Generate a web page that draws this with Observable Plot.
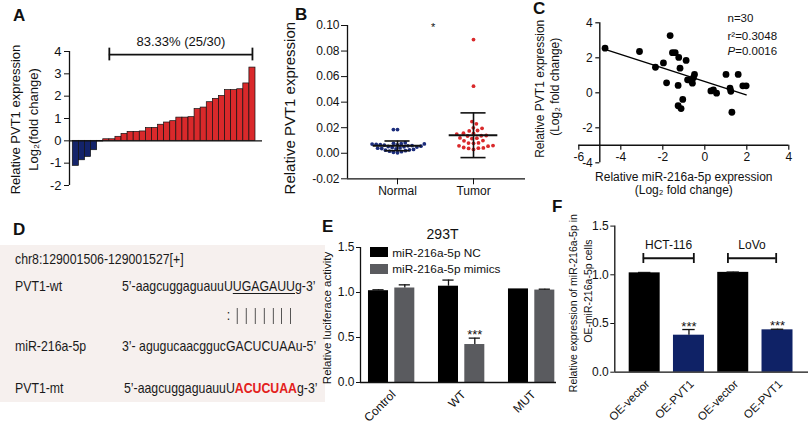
<!DOCTYPE html>
<html><head><meta charset="utf-8">
<script src="https://cdn.jsdelivr.net/npm/d3@7"></script>
<script src="https://cdn.jsdelivr.net/npm/@observablehq/plot@0.6"></script>
<style>
body{margin:0;background:#fff}
#fig{position:relative;width:810px;height:424px;overflow:hidden;background:#fff;font-family:'Liberation Sans',Arial,Helvetica,sans-serif;color:#111}
.letter{position:absolute;font-weight:bold;font-size:17px;line-height:17px}
.ht{position:absolute;white-space:pre}
.dtext{position:absolute;font-size:15px;line-height:15px;white-space:pre;transform:scaleX(0.82);transform-origin:0 0;color:#1a1a1a}
</style></head>
<body><div id="fig"></div>
<script>
// ---------- DATA ----------
// Panel A: waterfall of log2 fold change (30 patients)
const aValues = [-1.12,-0.87,-0.72,-0.42,-0.03,0.07,0.07,0.18,0.31,0.40,0.40,0.42,0.57,0.58,0.72,0.82,0.88,1.04,1.04,1.06,1.42,1.49,1.73,1.88,2.01,2.27,2.27,2.31,2.57,3.28];
const aTicks = [-2,-1,0,1,2,3,4];
const aNote = "83.33% (25/30)";
const aYLabel = ["Relative PVT1 expression","Log\u2082(fold change)"];

// Panel B: scatter of relative PVT1 expression
const bCategories = ["Normal","Tumor"];
const bNormal = [0.0185,0.0185,0.0082,0.0078,0.0075,0.0073,0.0072,0.0070,0.0068,0.0066,0.0063,0.0060,0.0058,0.0055,0.0053,0.0050,0.0048,0.0045,0.0042,0.0040,0.0037,0.0034,0.0030,0.0027,0.0024,0.0020,0.0016,0.0012,0.0008,0.0004];
const bTumor = [0.089,0.0525,0.0248,0.0230,0.0199,0.0195,0.0178,0.0175,0.0157,0.0155,0.0150,0.0139,0.0137,0.0135,0.0120,0.0118,0.0115,0.0099,0.0097,0.0081,0.0080,0.0078,0.0060,0.0058,0.0055,0.0045,0.0042,0.0040,0.0038,0.0030];
const bMean = [0.0058,0.0141];
const bSD = [0.0038,0.0175];
const bTicks = [-0.02,0,0.02,0.04,0.06,0.08,0.10];
const bSig = "*";
const bYLabel = "Relative PVT1 expression";

// Panel C: correlation miR-216a-5p vs PVT1
const cMiR = [-4.75,-3.11,-2.35,-1.97,-1.82,-1.65,-1.54,-1.41,-1.24,-1.18,-1.27,-1.05,-1.27,-1.13,-0.89,-0.82,-0.67,-0.59,-0.49,-0.54,0.29,0.41,0.56,1.01,1.20,1.24,1.29,1.59,1.81,1.97];
const cPVT1 = [2.55,2.36,1.46,1.71,0.57,3.27,2.29,2.29,2.02,1.41,0.42,-0.38,-0.74,-0.90,1.85,0.74,0.70,0.55,1.05,0.86,0.11,0.17,-0.02,1.05,0.26,0.09,-1.11,1.05,0.40,0.40];
const cXTicks = [-6,-4,-2,0,2,4];
const cYTicks = [-4,-2,0,2,4];
const cStats = ["n=30","r\u00b2=0.3048","P","=0.0016"];
const cYLabel = ["Relative PVT1 expression","(Log\u2082 fold change)"];
const cXLabel = ["Relative miR-216a-5p expression","(Log\u2082 fold change)"];

// Panel D: sequences
const dHeader = "chr8:129001506-129001527[+]";
const dRows = [
  {label:"PVT1-wt", prefix:"5\u2019-aagcuggaguauuU", site:"UGAGAUU", suffix:"g-3\u2019", kind:"underline"},
  {label:"miR-216a-5p", prefix:"3\u2019- agugucaacgguc", site:"GACUCUAA", suffix:"u-5\u2019", kind:"plain"},
  {label:"PVT1-mt", prefix:"5\u2019-aagcuggaguauuU", site:"ACUCUAA", suffix:"g-3\u2019", kind:"red"}
];
const dPairPrefix = "5\u2019-aagcuggaguauu";
const dPairBases = "UUGAGAUU";
const dPairSymbols = ":|||||||";

// Panel E: luciferase
const eTitle = "293T";
const eGroups = ["Control","WT","MUT"];
const eSeries = ["miR-216a-5p NC","miR-216a-5p mimics"];
const eNC = [1.02,1.07,1.04];
const eNCErr = [0.01,0.068,0.0];
const eMimics = [1.05,0.422,1.027];
const eMimicsErr = [0.035,0.071,0.01];
const eMimicsSig = ["","***",""];
const eTicks = [0,0.5,1.0,1.5];
const eYLabel = "Relative luciferace activity";

// Panel F: miR-216a-5p expression
const fLabels = ["OE-vector","OE-PVT1","OE-vector","OE-PVT1"];
const fValues = [1.02,0.38,1.025,0.435];
const fErr = [0.004,0.058,0.003,0.006];
const fSig = ["","***","","***"];
const fCells = ["HCT-116","LoVo"];
const fTicks = [0,0.5,1.0,1.5];
const fYLabel = ["Relative expression of miR-216a-5p in","OE-miR-216a-5p cells"];

// ---------- HELPERS ----------
const FONT = "'Liberation Sans', Arial, Helvetica, sans-serif";
const NAVY = "#13236a", RED = "#d9292b", GRAY = "#5a5b5f";
const fig = document.getElementById("fig");
function sty(fs){return {fontFamily:FONT,fontSize:fs+"px",background:"transparent",overflow:"visible",color:"#111"};}
function put(node,left,top){node.style.position="absolute";node.style.left=left+"px";node.style.top=top+"px";node.style.maxWidth="none";fig.appendChild(node);}
function letter(t,left,capTop){const d=document.createElement("div");d.className="letter";d.textContent=t;d.style.left=left+"px";d.style.top=(capTop-2.2)+"px";fig.appendChild(d);}
function swarm(vals,ypx,diam){
  const placed=[],offs=new Array(vals.length);
  const order=d3.range(vals.length).sort((a,b)=>ypx(vals[b])-ypx(vals[a]));
  for(const i of order){
    const y=ypx(vals[i]);const cands=[0];
    for(const p of placed){const dy=y-p.y;if(Math.abs(dy)<diam){const dx=Math.sqrt(diam*diam-dy*dy);cands.push(p.x+dx,p.x-dx);}}
    cands.sort((a,b)=>Math.abs(a)-Math.abs(b)||a-b);
    for(const c of cands){if(placed.every(p=>(p.x-c)**2+(p.y-y)**2>=diam*diam-1e-6)){offs[i]=c;placed.push({x:c,y});break;}}
  }
  return offs;
}
const hy = d=>String(d);
// rotated axis title helper
function vlabel(t,dx,dy,fs){return Plot.text([t],{frameAnchor:"left",rotate:-90,textAnchor:"middle",lineAnchor:"middle",dx,dy,text:d=>d,fontSize:fs});}

// ---------- PANEL A ----------
const aXDomain=[-0.54,31.15];
const plotA = Plot.plot({
  width:270,height:200,marginLeft:69,marginRight:8,marginTop:51,marginBottom:15,
  style:sty(13), color:{type:"identity"},
  x:{domain:aXDomain,axis:null},
  y:{domain:[aTicks[0],aTicks.at(-1)],ticks:aTicks,tickFormat:hy,tickSize:5,tickPadding:3,label:null},
  marks:[
    Plot.rectY(aValues,{x1:(d,i)=>i,x2:(d,i)=>i+1,y1:0,y2:d=>d,fill:d=>d<0?NAVY:RED,stroke:"#111",strokeWidth:0.7}),
    Plot.ruleY([0],{strokeWidth:1.3}),
    Plot.ruleX([aXDomain[0]],{y1:aTicks[0],y2:aTicks.at(-1),strokeWidth:1.3}),
    Plot.ruleY([3.86],{x1:6,x2:29.5,strokeWidth:1.8}),
    Plot.ruleX([6,29.5],{y1:3.58,y2:4.15,strokeWidth:1.8}),
    Plot.text([aNote],{x:17.75,y:4.44,text:d=>d,fontSize:13}),
    vlabel(aYLabel[0],-54,1,13),
    vlabel(aYLabel[1],-36,1,13)
  ]
});
put(plotA,0,0);

// ---------- PANEL B ----------
const bW=263,bH=200,bML=75,bMR=10,bMT=25,bMB=21.7;
const bXDomain=[-0.658,1.684];
const bPx=(bW-bML-bMR)/(bXDomain[1]-bXDomain[0]);
const bYpx=d3.scaleLinear().domain([bTicks[0],bTicks.at(-1)]).range([bH-bMB,bMT]);
const offN=swarm(bNormal,bYpx,4.1), offT=swarm(bTumor,bYpx,5.0);
const bPoints=[...bNormal.map((v,i)=>({g:0,v,o:offN[i]})),...bTumor.map((v,i)=>({g:1,v,o:offT[i]}))];
const bCaps=bMean.flatMap((m,i)=>[{i,y:m-bSD[i]},{i,y:m+bSD[i]}]);
const plotB = Plot.plot({
  width:bW,height:bH,marginLeft:bML,marginRight:bMR,marginTop:bMT,marginBottom:bMB,
  style:sty(12), color:{type:"identity"},
  x:{domain:bXDomain,ticks:[0,1],tickFormat:i=>bCategories[i],tickSize:6,tickPadding:2,label:null},
  y:{domain:[bTicks[0],bTicks.at(-1)],ticks:bTicks,tickFormat:d=>d.toFixed(2),tickSize:6,tickPadding:2,label:null},
  marks:[
    Plot.ruleX([bXDomain[0]],{y1:bTicks[0],y2:bTicks.at(-1),strokeWidth:1.3}),
    Plot.ruleY([bTicks[0]],{strokeWidth:1.3}),
    Plot.dot(bPoints,{x:d=>d.g+d.o/bPx,y:"v",r:1.9,fill:d=>d.g?RED:"#1c2d7c",stroke:"none"}),
    Plot.ruleY(bMean,{y:d=>d,x1:(d,i)=>i-0.32,x2:(d,i)=>i+0.32,strokeWidth:2}),
    Plot.ruleX(bMean,{x:(d,i)=>i,y1:(d,i)=>d-bSD[i],y2:(d,i)=>d+bSD[i],strokeWidth:1.6}),
    Plot.ruleY(bCaps,{y:"y",x1:d=>d.i-0.165,x2:d=>d.i+0.165,strokeWidth:1.6}),
    Plot.text([bSig],{x:0.47,y:0.0985,text:d=>d,fontSize:11}),
    vlabel(bYLabel,-57,6,15)
  ]
});
put(plotB,272,0);

// ---------- PANEL C ----------
const cPoints=cMiR.map((x,i)=>({x,y:cPVT1[i]}));
const cXAxisAt=-3, cYAxisAt=-5, cPxY=17.5, cPxX=21;
const plotC = Plot.plot({
  width:280,height:200,marginLeft:48.3,marginRight:21.7,marginTop:22.3,marginBottom:37.7,
  style:sty(12),
  x:{domain:[cXTicks[0],cXTicks.at(-1)],axis:null},
  y:{domain:[cYTicks[0],cYTicks.at(-1)],axis:null},
  marks:[
    Plot.ruleY([cXAxisAt],{x1:cXTicks[0],x2:cXTicks.at(-1),strokeWidth:1.4}),
    Plot.ruleX([cYAxisAt],{y1:cYTicks[0],y2:cYTicks.at(-1),strokeWidth:1.4}),
    Plot.ruleX(cXTicks,{x:d=>d,y1:cXAxisAt,y2:cXAxisAt-5/cPxY,strokeWidth:1.2}),
    Plot.text(cXTicks,{x:d=>d,y:cXAxisAt,dy:12,text:hy,fontSize:12}),
    Plot.ruleY(cYTicks,{y:d=>d,x1:cYAxisAt,x2:cYAxisAt-4/cPxX,strokeWidth:1.2}),
    Plot.text(cYTicks,{x:cYAxisAt,y:d=>d,dx:-7,textAnchor:"end",text:hy,fontSize:12}),
    Plot.dot(cPoints,{x:"x",y:"y",r:3.4,fill:"#000"}),
    Plot.linearRegressionY(cPoints,{x:"x",y:"y",ci:0,stroke:"#000",strokeWidth:1.4}),
    Plot.text([cStats[0]],{x:1.08,y:4.27,textAnchor:"start",text:d=>d,fontSize:11.5}),
    Plot.text([cStats[1]],{x:1.08,y:3.25,textAnchor:"start",text:d=>d,fontSize:11.5}),
    Plot.text([cStats[2]],{x:1.08,y:2.39,textAnchor:"start",text:d=>d,fontSize:11.5,fontStyle:"italic"}),
    Plot.text([cStats[3]],{x:1.08,y:2.39,dx:7.7,textAnchor:"start",text:d=>d,fontSize:11.5}),
    vlabel(cYLabel[0],-38.3,-4,12),
    vlabel(cYLabel[1],-23.3,-6,12),
    Plot.text([cXLabel[0]],{frameAnchor:"bottom",dy:17.7,text:d=>d,fontSize:12}),
    Plot.text([cXLabel[1]],{frameAnchor:"bottom",dy:30.7,text:d=>d,fontSize:12})
  ]
});
put(plotC,530,0);

// ---------- PANEL D ----------
const dBox=document.createElement("div");
dBox.style.cssText="position:absolute;left:0;top:245px;width:325px;height:157px;background:#f6f0ee";
fig.appendChild(dBox);
function dLine(left,centerY){const el=document.createElement("div");el.className="dtext";el.style.left=left+"px";el.style.top=(centerY-7.3)+"px";fig.appendChild(el);return el;}
function span(parent,text,css){const s=document.createElement("span");s.textContent=text;if(css)s.style.cssText=css;parent.appendChild(s);return s;}
span(dLine(15,258),dHeader);
const dCenters=[285.7,345,387.7], dSeqLeft=[121.7,121.7,124];
dRows.forEach((r,k)=>{
  span(dLine(15,dCenters[k]),r.label);
  const el=dLine(dSeqLeft[k],dCenters[k]);
  span(el,r.prefix);
  if(r.kind==="underline") span(el,r.site,"text-decoration:underline;text-decoration-thickness:1px;text-underline-offset:2px");
  else if(r.kind==="red") span(el,r.site,"color:#e3211c;font-weight:bold");
  else span(el,r.site);
  span(el,r.suffix);
});
{
  const row=document.createElement("div");row.className="dtext";
  row.style.left="121.7px";row.style.top="307.5px";row.style.lineHeight="17px";fig.appendChild(row);
  span(row,dPairPrefix,"visibility:hidden");
  [...dPairBases].forEach((b,k)=>{
    const cell=span(row,"","position:relative;display:inline-block");
    span(cell,b,"visibility:hidden");
    const sym=dPairSymbols[k];
    if(sym===":") span(cell,":","position:absolute;left:0;right:0;top:-2px;text-align:center");
    else span(cell,"","position:absolute;top:0;left:calc(50% - 0.7px);width:1.4px;height:16.7px;background:#333");
  });
}

// ---------- PANEL E ----------
const eXDomain=[-0.446,2.354], eOff=[-0.189,0.187], eHalf=0.143;
const eBars=eGroups.flatMap((g,i)=>[{g:i,s:0,v:eNC[i],e:eNCErr[i],sig:""},{g:i,s:1,v:eMimics[i],e:eMimicsErr[i],sig:eMimicsSig[i]}]);
const eErr=eBars.filter(d=>d.e>0);
const plotE = Plot.plot({
  width:240,height:224,marginLeft:42,marginRight:2,marginTop:47,marginBottom:42,
  style:sty(12), color:{type:"identity"},
  x:{domain:eXDomain,axis:null},
  y:{domain:[eTicks[0],eTicks.at(-1)],ticks:eTicks,tickFormat:d=>d.toFixed(1),tickSize:4,tickPadding:2,label:null},
  marks:[
    Plot.rectY(eBars,{x1:d=>d.g+eOff[d.s]-eHalf,x2:d=>d.g+eOff[d.s]+eHalf,y1:0,y2:"v",fill:d=>d.s?GRAY:"#000"}),
    Plot.ruleX(eErr,{x:d=>d.g+eOff[d.s],y1:"v",y2:d=>d.v+d.e,strokeWidth:1.3}),
    Plot.ruleY(eErr,{y:d=>d.v+d.e,x1:d=>d.g+eOff[d.s]-0.08,x2:d=>d.g+eOff[d.s]+0.08,strokeWidth:1.3}),
    Plot.text(eBars.filter(d=>d.sig),{x:d=>d.g+eOff[d.s],y:d=>d.v+d.e,dy:-3,text:"sig",fontSize:13}),
    Plot.ruleX([eXDomain[0]],{y1:eTicks[0],y2:eTicks.at(-1),strokeWidth:1.3}),
    Plot.ruleY([0],{strokeWidth:1.3}),
    Plot.text(eGroups,{x:(d,i)=>i,y:0,dx:2,dy:10,rotate:-45,textAnchor:"end",text:d=>d,fontSize:12}),
    Plot.text([eTitle],{x:0.726,y:1.644,text:d=>d,fontSize:14}),
    vlabel(eYLabel,-33,3,11.5)
  ]
});
put(plotE,318,200);
eSeries.forEach((s,i)=>{
  const sw=document.createElement("div");
  sw.style.cssText=`position:absolute;left:370px;top:${247+i*17}px;width:17.7px;height:10px;background:${i?GRAY:"#000"}`;
  fig.appendChild(sw);
  const t=document.createElement("div");t.className="ht";t.textContent=s;
  t.style.cssText+=`;font-size:11.8px;line-height:14px;left:392.3px;top:${252.7+i*16.6-6.85}px`;
  fig.appendChild(t);
});

// ---------- PANEL F ----------
const fXDomain=[-0.675,3.70];
const fBrackets=[[-0.03,1.11],[1.88,2.97]];
const plotF = Plot.plot({
  width:252,height:224,marginLeft:56.3,marginRight:2,marginTop:25.6,marginBottom:52.3,
  style:sty(12), color:{type:"identity"},
  x:{domain:fXDomain,axis:null},
  y:{domain:[fTicks[0],fTicks.at(-1)],ticks:fTicks,tickFormat:d=>d.toFixed(1),tickSize:4,tickPadding:2,label:null},
  marks:[
    Plot.rectY(fValues,{x1:(d,i)=>i-0.35,x2:(d,i)=>i+0.35,y1:0,y2:d=>d,fill:(d,i)=>i%2?"#0f2266":"#000"}),
    Plot.ruleX(fValues,{x:(d,i)=>i,y1:d=>d,y2:(d,i)=>d+fErr[i],strokeWidth:1.3}),
    Plot.ruleY(fValues,{y:(d,i)=>d+fErr[i],x1:(d,i)=>i-0.14,x2:(d,i)=>i+0.14,strokeWidth:1.3}),
    Plot.text(fValues,{x:(d,i)=>i,y:(d,i)=>d+fErr[i],dy:-3,text:(d,i)=>fSig[i],fontSize:13}),
    Plot.ruleX([fXDomain[0]],{y1:fTicks[0],y2:fTicks.at(-1),strokeWidth:1.3}),
    Plot.ruleY([0],{strokeWidth:1.3}),
    Plot.ruleY(fBrackets,{y:1.17,x1:d=>d[0],x2:d=>d[1],strokeWidth:1.8}),
    Plot.ruleX(fBrackets.flat(),{x:d=>d,y1:1.116,y2:1.219,strokeWidth:1.8}),
    Plot.text(fCells,{x:(d,i)=>(fBrackets[i][0]+fBrackets[i][1])/2,y:1.308,text:d=>d,fontSize:12}),
    Plot.text(fLabels,{x:(d,i)=>i,y:0,dx:3,dy:10,rotate:-45,textAnchor:"end",text:d=>d,fontSize:11.5}),
    vlabel(fYLabel[0],-41.3,4,10.5),
    vlabel(fYLabel[1],-26.3,-8,10.5)
  ]
});
put(plotF,558,200);

// ---------- PANEL LETTERS ----------
letter("A",13,9.5); letter("B",295,8); letter("C",533,2);
letter("D",13,223); letter("E",322,220); letter("F",552,200);
</script>
</body></html>
